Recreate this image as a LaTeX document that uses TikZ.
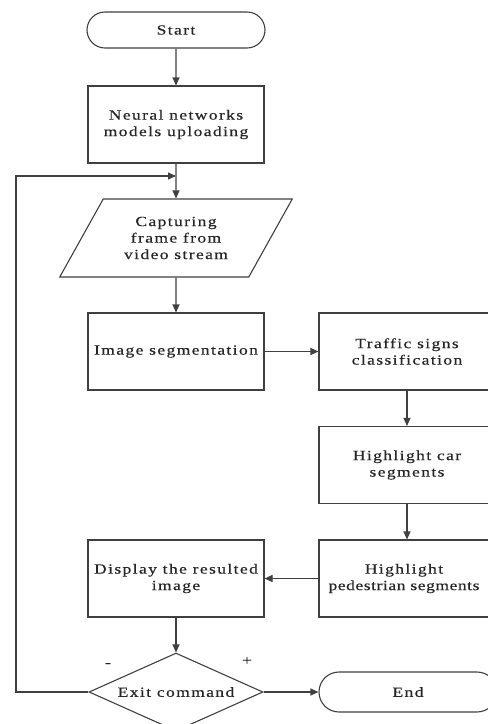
\documentclass[tikz,border=0pt]{standalone}
\usepackage{fontspec}
\setmainfont{Liberation Serif}[LetterSpace=10, FakeStretch=1.25, FakeBold=0.5]
\usetikzlibrary{arrows.meta,shapes.geometric,shapes.misc}
\begin{document}
\begin{tikzpicture}[x=1pt,y=-1pt, line width=1.1pt, draw=black!75,
  every node/.style={font=\fontsize{14}{16.5}\selectfont, text=black!85},
  box/.style={draw=black!75, rectangle, minimum width=176, minimum height=77, align=center, inner sep=0pt},
  term/.style={draw=black!75, rounded rectangle, minimum width=178, align=center, inner sep=0pt},
  io/.style={draw=black!75, trapezium, trapezium left angle=53.8, trapezium right angle=126.2, trapezium stretches=true, minimum width=233, minimum height=78, align=center, inner sep=0pt},
  dec/.style={draw=black!75, diamond, minimum width=174, minimum height=78, aspect=2.2, inner sep=0pt},
  arr/.style={draw=black!75, -{Triangle[length=8pt,width=7pt]}}]
\path[use as bounding box] (0,0) rectangle (488,724);
\clip (0,0) rectangle (488,724);
\node[term, minimum height=36] (start) at (176,30) {Start};
\node[box] (load) at (176,124.5) {Neural networks\\models uploading};
\node[io] (cap) at (176,238) {Capturing\\frame from\\video stream};
\node[box] (seg) at (176,351.5) {Image segmentation};
\node[box] (sign) at (407,351.5) {Traffic signs\\classification};
\node[box] (car) at (407,465) {Highlight car\\segments};
\node[box] (ped) at (407,578.5) {}; 
\node[align=center] (pedtext) at (404,578.5) {Highlight\\{\addfontfeature{LetterSpace=4}pedestrian segments}};
\node[box] (disp) at (176,578.5) {Display the resulted\\image};
\node[dec] (exit) at (176,692) {Exit command};
\node[term, minimum height=40] (end) at (408,692) {End};
\node (minus) at (108,665) {-};
\node (plus) at (247,661) {+};
\coordinate (join) at (176,176);
\coordinate (lc) at (16,176);
\draw[arr] (start) -- (load);
\draw[arr] (load) -- (cap);
\draw[arr] (exit.west) -| (lc) -- (join);
\draw[arr] (cap) -- (seg);
\draw[arr] (seg) -- (sign);
\draw[arr] (sign) -- (car);
\draw[arr] (car) -- (ped);
\draw[arr] (ped) -- (disp);
\draw[arr] (disp) -- (exit);
\draw[arr] (exit) -- (end);
\end{tikzpicture}
\end{document}
